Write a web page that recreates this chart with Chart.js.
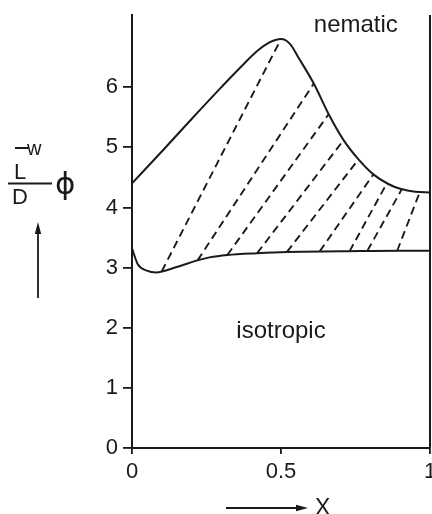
<!DOCTYPE html>
<html>
<head>
<meta charset="utf-8">
<script src="https://cdn.jsdelivr.net/npm/chart.js@4.4.1/dist/chart.umd.min.js"></script>
<style>
  html, body { margin: 0; padding: 0; background: #fff; }
</style>
</head>
<body>
<canvas id="phaseChart" width="432" height="514"></canvas>
<script>
// nematic / isotropic boundaries vs. composition X
let upperX = [0, 0.1, 0.2, 0.3, 0.37, 0.42, 0.46, 0.5, 0.53, 0.56, 0.61, 0.66, 0.71, 0.76, 0.81, 0.86, 0.9, 0.95, 1];
let upperY = [4.4, 4.93, 5.47, 6.0, 6.36, 6.6, 6.74, 6.8, 6.72, 6.48, 6.06, 5.55, 5.12, 4.8, 4.55, 4.39, 4.31, 4.26, 4.25];

let lowerX = [0, 0.02, 0.05, 0.08, 0.15, 0.22, 0.26, 0.32, 0.42, 0.52, 0.7, 0.9, 1];
let lowerY = [3.32, 3.05, 2.95, 2.92, 3.01, 3.12, 3.17, 3.21, 3.24, 3.26, 3.27, 3.28, 3.28];

// tie lines: lower end -> upper end
let tieX0 = [0.10, 0.22, 0.32, 0.42, 0.52, 0.63, 0.73, 0.79, 0.89];
let tieY0 = [2.94, 3.12, 3.21, 3.24, 3.26, 3.27, 3.27, 3.28, 3.28];
let tieX1 = [0.50, 0.61, 0.66, 0.71, 0.76, 0.81, 0.855, 0.905, 0.966];
let tieY1 = [6.80, 6.06, 5.55, 5.12, 4.80, 4.55, 4.40, 4.30, 4.26];

let xTicks = [0, 0.5, 1];
let xTickLabels = ['0', '0.5', '1'];
let yTicks = [0, 1, 2, 3, 4, 5, 6];
let yTickLabels = ['0', '1', '2', '3', '4', '5', '6'];

let regionNames = ['nematic', 'isotropic'];
let regionAt = [[0.61, 6.91], [0.35, 1.83]];

const ink = '#1a1a1a';
const font = '"Liberation Sans", Arial, Helvetica, sans-serif';

function pts(xs, ys) {
    return xs.map((x, i) => ({ x: x, y: ys[i] }));
}

let datasets = [
    {
        data: pts(upperX, upperY),
        borderColor: ink,
        borderWidth: 2,
        cubicInterpolationMode: 'monotone'
    },
    {
        data: pts(lowerX, lowerY),
        borderColor: ink,
        borderWidth: 2,
        cubicInterpolationMode: 'monotone'
    },
    {
        // pure component edge at X = 1
        data: [{ x: 1, y: 0 }, { x: 1, y: 7.2 }],
        borderColor: ink,
        borderWidth: 2
    }
];
for (let i = 0; i < tieX0.length; i++) {
    datasets.push({
        data: [{ x: tieX0[i], y: tieY0[i] }, { x: tieX1[i], y: tieY1[i] }],
        borderColor: ink,
        borderWidth: 1.9,
        borderDash: [8, 5]
    });
}
datasets.forEach(d => {
    d.showLine = true;
    d.pointRadius = 0;
    d.fill = false;
    d.clip = false;
});

function arrow(ctx, x0, y0, x1, y1) {
    const a = Math.atan2(y1 - y0, x1 - x0);
    const len = 12, half = 3.2;
    ctx.beginPath();
    ctx.moveTo(x0, y0);
    ctx.lineTo(x1 - len * Math.cos(a), y1 - len * Math.sin(a));
    ctx.stroke();
    ctx.beginPath();
    ctx.moveTo(x1, y1);
    ctx.lineTo(x1 - len * Math.cos(a) - half * Math.sin(a), y1 - len * Math.sin(a) + half * Math.cos(a));
    ctx.lineTo(x1 - len * Math.cos(a) + half * Math.sin(a), y1 - len * Math.sin(a) - half * Math.cos(a));
    ctx.closePath();
    ctx.fill();
}

const phaseLabels = {
    id: 'phaseLabels',
    afterDraw(chart) {
        const ctx = chart.ctx;
        const xs = chart.scales.x, ys = chart.scales.y;
        ctx.save();
        ctx.fillStyle = ink;
        ctx.strokeStyle = ink;
        ctx.textBaseline = 'alphabetic';
        ctx.textAlign = 'left';

        ctx.font = '24px ' + font;
        regionNames.forEach((name, i) => {
            ctx.fillText(name, xs.getPixelForValue(regionAt[i][0]), ys.getPixelForValue(regionAt[i][1]));
        });

        // y title:  (L-bar w / D) phi  with an upward arrow
        ctx.lineWidth = 2;
        ctx.beginPath();
        ctx.moveTo(15, 148);
        ctx.lineTo(28, 148);
        ctx.stroke();
        ctx.font = '20px ' + font;
        ctx.fillText('w', 27, 155);
        ctx.font = '22px ' + font;
        ctx.fillText('L', 14, 179);
        ctx.fillText('D', 12, 204);
        ctx.beginPath();
        ctx.moveTo(8, 183.5);
        ctx.lineTo(52, 183.5);
        ctx.stroke();
        ctx.font = '31px "DejaVu Sans", sans-serif';
        ctx.fillText('\u03D5', 55, 194);
        ctx.lineWidth = 1.8;
        arrow(ctx, 38, 298, 38, 222);

        // x title with arrow
        arrow(ctx, 226, 508, 308, 508);
        ctx.font = '23px ' + font;
        ctx.fillText('X', 315, 515);
        ctx.restore();
    }
};

new Chart(document.getElementById('phaseChart'), {
    type: 'scatter',
    data: { datasets: datasets },
    options: {
        responsive: false,
        animation: false,
        layout: { padding: { left: 0, right: 2, top: 15, bottom: 0 } },
        plugins: {
            legend: { display: false },
            tooltip: { enabled: false }
        },
        scales: {
            x: {
                type: 'linear',
                min: 0,
                max: 1,
                afterBuildTicks: scale => { scale.ticks = xTicks.map(v => ({ value: v })); },
                afterFit: scale => {
                    scale.height = 66;
                    scale.paddingLeft = 0;
                    scale.paddingRight = 0;
                },
                ticks: {
                    color: ink,
                    padding: 5,
                    maxRotation: 0,
                    autoSkip: false,
                    font: { family: font, size: 22 },
                    callback: (v, i) => xTickLabels[i]
                },
                grid: { drawOnChartArea: false, tickLength: 6, color: ink, lineWidth: 1.8 },
                border: { display: true, color: ink, width: 2 }
            },
            y: {
                type: 'linear',
                min: 0,
                max: 7.2,
                afterBuildTicks: scale => { scale.ticks = yTicks.map(v => ({ value: v })); },
                afterFit: scale => {
                    scale.width = 132;
                    scale.paddingTop = 0;
                    scale.paddingBottom = 0;
                },
                ticks: {
                    color: ink,
                    padding: 5,
                    autoSkip: false,
                    font: { family: font, size: 22 },
                    callback: (v, i) => yTickLabels[i]
                },
                grid: { drawOnChartArea: false, tickLength: 9, color: ink, lineWidth: 1.8 },
                border: { display: true, color: ink, width: 2 }
            }
        }
    },
    plugins: [phaseLabels]
});
</script>
</body>
</html>
